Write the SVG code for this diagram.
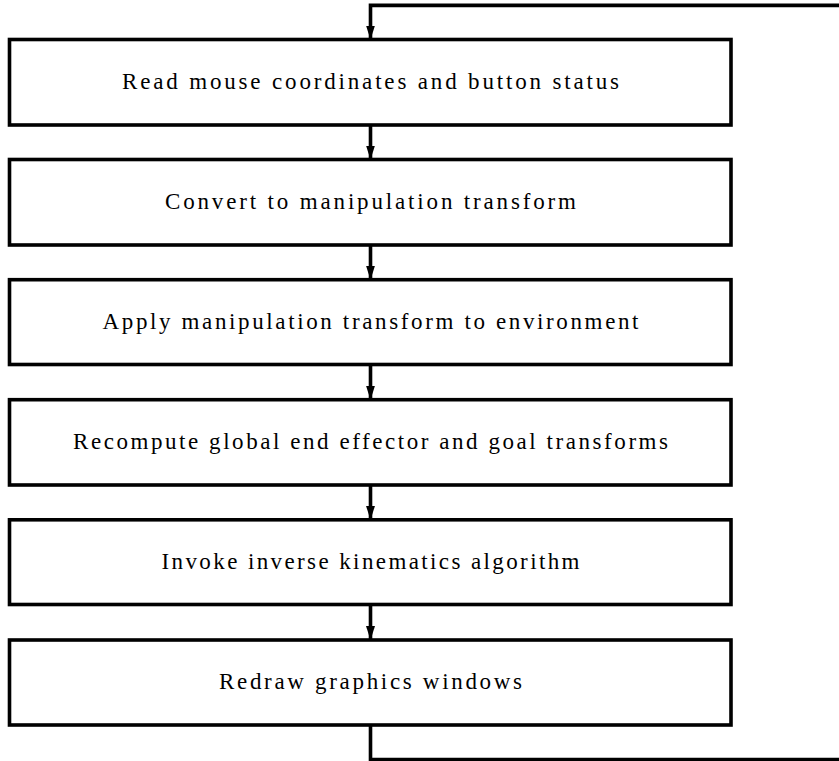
<svg xmlns="http://www.w3.org/2000/svg" width="839" height="761" viewBox="0 0 839 761">
<style>
  .box { fill: #ffffff; stroke: #000000; stroke-width: 3.6; }
  .lbl { font-family: "Liberation Serif", "DejaVu Serif", serif; font-size: 23px; fill: #000000; text-anchor: middle; }
  .conn { fill: none; stroke: #000000; stroke-width: 3.6; }
</style>
<defs>
  <marker id="arrow" viewBox="0 0 14 10" refX="14" refY="5" markerWidth="14" markerHeight="10" markerUnits="userSpaceOnUse" orient="auto">
    <path d="M0,0.5 L14,5 L0,9.5 z" fill="#000000"/>
  </marker>
</defs>
<rect width="839" height="761" fill="#ffffff"/>
<g id="connectors">
  <path class="conn" d="M370.5,125 V159.5" marker-end="url(#arrow)"/>
  <path class="conn" d="M370.5,245 V279.7" marker-end="url(#arrow)"/>
  <path class="conn" d="M370.5,364.5 V399.7" marker-end="url(#arrow)"/>
  <path class="conn" d="M370.5,485 V519.8" marker-end="url(#arrow)"/>
  <path class="conn" d="M370.5,604.5 V640" marker-end="url(#arrow)"/>
  <path class="conn" d="M370.5,725 V759.6 H842 V5.4 H370.5 V39.5" marker-end="url(#arrow)"/>
</g>
<g id="node1">
  <rect class="box" x="9.5" y="39.5" width="721.5" height="85.5"/>
  <text class="lbl" x="370.5" y="89" textLength="497" lengthAdjust="spacing">Read mouse coordinates and button status</text>
</g>
<g id="node2">
  <rect class="box" x="9.5" y="159.5" width="721.5" height="85.5"/>
  <text class="lbl" x="370.5" y="209" textLength="411" lengthAdjust="spacing">Convert to manipulation transform</text>
</g>
<g id="node3">
  <rect class="box" x="9.5" y="279.7" width="721.5" height="84.8"/>
  <text class="lbl" x="370.5" y="329" textLength="536" lengthAdjust="spacing">Apply manipulation transform to environment</text>
</g>
<g id="node4">
  <rect class="box" x="9.5" y="399.7" width="721.5" height="85.3"/>
  <text class="lbl" x="370.5" y="449" textLength="595" lengthAdjust="spacing">Recompute global end effector and goal transforms</text>
</g>
<g id="node5">
  <rect class="box" x="9.5" y="519.8" width="721.5" height="84.7"/>
  <text class="lbl" x="370.5" y="569" textLength="418" lengthAdjust="spacing">Invoke inverse kinematics algorithm</text>
</g>
<g id="node6">
  <rect class="box" x="9.5" y="640" width="721.5" height="85"/>
  <text class="lbl" x="370.5" y="689" textLength="303" lengthAdjust="spacing">Redraw graphics windows</text>
</g>
</svg>
